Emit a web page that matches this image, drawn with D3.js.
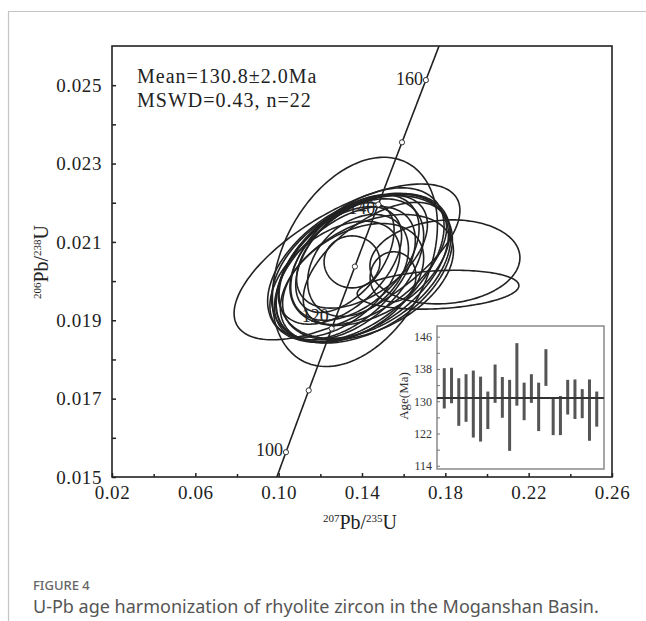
<!DOCTYPE html>
<html>
<head>
<meta charset="utf-8">
<script src="https://cdn.jsdelivr.net/npm/d3@7"></script>
<style>
  body { margin: 0; background: #fff; }
  svg { display: block; }
</style>
</head>
<body>
<div id="chart"></div>
<script>
// zircon U-Pb ratios (2 sigma ellipses)
const pb207u235 = [0.1328, 0.1366, 0.1765, 0.1352, 0.1549, 0.1390, 0.1381, 0.1400, 0.1414, 0.1342, 0.1318,
                   0.1438, 0.1366, 0.1429, 0.1294, 0.1462, 0.1352, 0.1400, 0.1318, 0.1798, 0.1381, 0.1270];
const err207 = [0.0271, 0.0198, 0.0194, 0.0067, 0.0055, 0.0202, 0.0217, 0.0217, 0.0206, 0.0177, 0.0169,
                0.0192, 0.0154, 0.0205, 0.0148, 0.0172, 0.0172, 0.0157, 0.0118, 0.0180, 0.0121, 0.0156];
const pb206u238 = [0.02049, 0.02049, 0.01978, 0.02049, 0.02011, 0.02042, 0.02034, 0.02030, 0.02038, 0.02030, 0.02020,
                   0.02055, 0.02060, 0.02010, 0.02040, 0.02045, 0.01995, 0.02075, 0.02060, 0.02049, 0.02040, 0.02005];
const err206 = [0.000994, 0.001335, 0.000248, 0.000332, 0.000319, 0.000980, 0.000950, 0.000940, 0.000920, 0.000900, 0.000850,
                0.000840, 0.000800, 0.000800, 0.000750, 0.000780, 0.000760, 0.000720, 0.000700, 0.000536, 0.000650, 0.000740];
const rho = [0.66, 0.35, 0.21, 0.0, 0.03, 0.50, 0.45, 0.40, 0.40, 0.48, 0.50,
             0.42, 0.47, 0.42, 0.50, 0.58, 0.42, 0.48, 0.50, 0.10, 0.32, 0.46];

// concordia age marks (Ma)
const concAges = [100, 110, 120, 130, 140, 150, 160];
const concLabels = [100, 120, 140, 160];

// inset: 206Pb/238U ages with 2 sigma bars
const ageLow  = [128.2, 129.5, 123.9, 124.9, 121.0, 120.0, 123.1, 129.6, 125.9, 117.7, 128.9,
                 125.3, 129.6, 122.6, 133.8, 121.6, 121.6, 126.7, 125.6, 125.8, 120.2, 123.7];
const ageHigh = [138.2, 138.3, 135.7, 136.7, 137.6, 136.1, 132.4, 139.1, 136.0, 135.3, 144.4,
                 134.6, 136.7, 134.6, 142.9, 130.7, 131.3, 135.3, 135.4, 133.0, 135.4, 132.4];
const meanAge = 130.8;

const xTicks = [0.02, 0.06, 0.10, 0.14, 0.18, 0.22, 0.26];
const xMinor = [0.04, 0.08, 0.12, 0.16, 0.20, 0.24];
const yTicks = [0.015, 0.017, 0.019, 0.021, 0.023, 0.025];
const yMinor = [0.016, 0.018, 0.020, 0.022, 0.024];
const insetTicks = [114, 122, 130, 138, 146];
const insetMinor = [118, 126, 134, 142];

const W = 646, H = 621;
const serif = '"Liberation Serif", "Times New Roman", serif';
const l238 = 1.55125e-10, l235 = 9.8485e-10;

const svg = d3.select('#chart').append('svg')
    .attr('width', W).attr('height', H)
    .style('background', '#fff');

// page frame
svg.append('path')
    .attr('d', 'M8.5,621V11.5H646')
    .attr('fill', 'none').attr('stroke', '#c4c4c4').attr('stroke-width', 1.2);

const x = d3.scaleLinear().domain([0.02, 0.26]).range([112, 612]);
const y = d3.scaleLinear().domain([0.015, 0.026]).range([477, 46]);

svg.append('defs').append('clipPath').attr('id', 'plotclip')
    .append('rect').attr('x', 112).attr('y', 46).attr('width', 500).attr('height', 431);

const plot = svg.append('g').attr('clip-path', 'url(#plotclip)');

// error ellipses
const k = 2;
const angles = d3.range(0, 2 * Math.PI + 0.001, Math.PI / 90);
const ellipseLine = d3.line().curve(d3.curveLinearClosed);
pb207u235.forEach((cx, i) => {
    const sx = err207[i], sy = err206[i], r = rho[i];
    const pts = angles.map(t => [
        x(cx + k * sx * Math.cos(t)),
        y(pb206u238[i] + k * sy * (r * Math.cos(t) + Math.sqrt(1 - r * r) * Math.sin(t)))
    ]);
    plot.append('path')
        .attr('d', ellipseLine(pts))
        .attr('fill', 'none')
        .attr('stroke', '#222')
        .attr('stroke-width', 1.6);
});

// concordia curve
const ratio = (lam, t) => Math.exp(lam * t * 1e6) - 1;
const curveAges = d3.range(90, 170, 0.5);
plot.append('path')
    .attr('d', d3.line()(curveAges.map(t => [x(ratio(l235, t)), y(ratio(l238, t))])))
    .attr('fill', 'none').attr('stroke', '#222').attr('stroke-width', 1.6);

plot.selectAll('circle.age').data(concAges).enter().append('circle')
    .attr('class', 'age')
    .attr('cx', t => x(ratio(l235, t)))
    .attr('cy', t => y(ratio(l238, t)))
    .attr('r', 2.6)
    .attr('fill', '#fff').attr('stroke', '#333').attr('stroke-width', 1);

const labelShift = { 100: 4, 120: -7, 140: 10, 160: 5 };
svg.selectAll('text.agelab').data(concLabels).enter().append('text')
    .attr('class', 'agelab')
    .attr('x', t => x(ratio(l235, t)) - 3)
    .attr('y', t => y(ratio(l238, t)) + labelShift[t])
    .attr('text-anchor', 'end')
    .style('font-family', serif).style('font-size', '18px').style('fill', '#222')
    .text(d => d);

// frame box
svg.append('rect')
    .attr('x', 112).attr('y', 46).attr('width', 500).attr('height', 431)
    .attr('fill', 'none').attr('stroke', '#222').attr('stroke-width', 1.6);

// axes
svg.append('g').attr('transform', 'translate(0,477)')
    .call(d3.axisBottom(x).tickValues(xTicks).tickFormat(d3.format('.2f')).tickSize(-4).tickPadding(9));
svg.append('g').attr('transform', 'translate(0,477)')
    .call(d3.axisBottom(x).tickValues(xMinor).tickFormat('').tickSize(-3));
svg.append('g').attr('transform', 'translate(112,0)')
    .call(d3.axisLeft(y).tickValues(yTicks).tickFormat(d3.format('.3f')).tickSize(-4).tickPadding(10));
svg.append('g').attr('transform', 'translate(112,0)')
    .call(d3.axisLeft(y).tickValues(yMinor).tickFormat('').tickSize(-4));

svg.selectAll('.domain').remove();
svg.selectAll('.tick line').attr('stroke', '#222').attr('stroke-width', 1.5);
svg.selectAll('.tick text')
    .style('font-family', serif).style('font-size', '19px').style('fill', '#222')
    .style('letter-spacing', '0.6px');

// axis titles
function ratioTitle(g, top, bottom) {
    const t = g.append('text').attr('text-anchor', 'middle')
        .style('font-family', serif).style('fill', '#222');
    t.append('tspan').attr('dy', -7).style('font-size', '11px').text(top);
    t.append('tspan').attr('dy', 7).style('font-size', '20px').text('Pb/');
    t.append('tspan').attr('dy', -7).style('font-size', '11px').text(bottom);
    t.append('tspan').attr('dy', 7).style('font-size', '20px').text('U');
}
ratioTitle(svg.append('g').attr('transform', 'translate(360,529)'), '207', '235');
ratioTitle(svg.append('g').attr('transform', 'translate(48,262) rotate(-90)'), '206', '238');

// mean text
svg.append('text').attr('x', 137).attr('y', 83)
    .style('font-family', serif).style('font-size', '20px').style('fill', '#222')
    .style('letter-spacing', '1px')
    .text('Mean=' + meanAge.toFixed(1) + '\u00b12.0Ma');
svg.append('text').attr('x', 137).attr('y', 107)
    .style('font-family', serif).style('font-size', '20px').style('fill', '#222')
    .style('letter-spacing', '1px')
    .text('MSWD=0.43, n=22');

// inset age plot
const ix = d3.scaleLinear().domain([0, ageLow.length + 1]).range([437, 604]);
const iy = d3.scaleLinear().domain([113.2, 148.65]).range([469, 326]);
const inset = svg.append('g');
inset.append('rect')
    .attr('x', 437).attr('y', 326).attr('width', 167).attr('height', 143)
    .attr('fill', '#fff').attr('stroke', '#8a8a8a').attr('stroke-width', 1.5);

inset.selectAll('rect.bar').data(ageLow).enter().append('rect')
    .attr('class', 'bar')
    .attr('x', (d, i) => ix(i + 1) - 1.5)
    .attr('width', 3)
    .attr('y', (d, i) => iy(ageHigh[i]))
    .attr('height', (d, i) => iy(d) - iy(ageHigh[i]))
    .attr('fill', '#555');

inset.append('line')
    .attr('x1', 437).attr('x2', 604)
    .attr('y1', iy(meanAge)).attr('y2', iy(meanAge))
    .attr('stroke', '#333').attr('stroke-width', 2);

inset.append('g').attr('transform', 'translate(437,0)')
    .call(d3.axisLeft(iy).tickValues(insetTicks).tickSize(-3).tickPadding(5));
inset.append('g').attr('transform', 'translate(437,0)')
    .call(d3.axisLeft(iy).tickValues(insetMinor).tickFormat('').tickSize(-3));
inset.selectAll('.domain').remove();
inset.selectAll('.tick line').attr('stroke', '#777').attr('stroke-width', 1);
inset.selectAll('.tick text')
    .style('font-family', serif).style('font-size', '12px').style('fill', '#333');

inset.append('text')
    .attr('transform', 'translate(408,396) rotate(-90)')
    .attr('text-anchor', 'middle')
    .style('font-family', serif).style('font-size', '13px').style('fill', '#333')
    .text('Age(Ma)');

// caption
svg.append('text').attr('x', 33).attr('y', 590)
    .style('font-family', '"Noto Sans", sans-serif').style('font-size', '13px')
    .style('fill', '#666').style('font-weight', 500)
    .text('FIGURE 4');
svg.append('text').attr('x', 33).attr('y', 613)
    .style('font-family', '"Noto Sans", sans-serif').style('font-size', '18px')
    .style('fill', '#555')
    .text('U-Pb age harmonization of rhyolite zircon in the Moganshan Basin.');
</script>
</body>
</html>
